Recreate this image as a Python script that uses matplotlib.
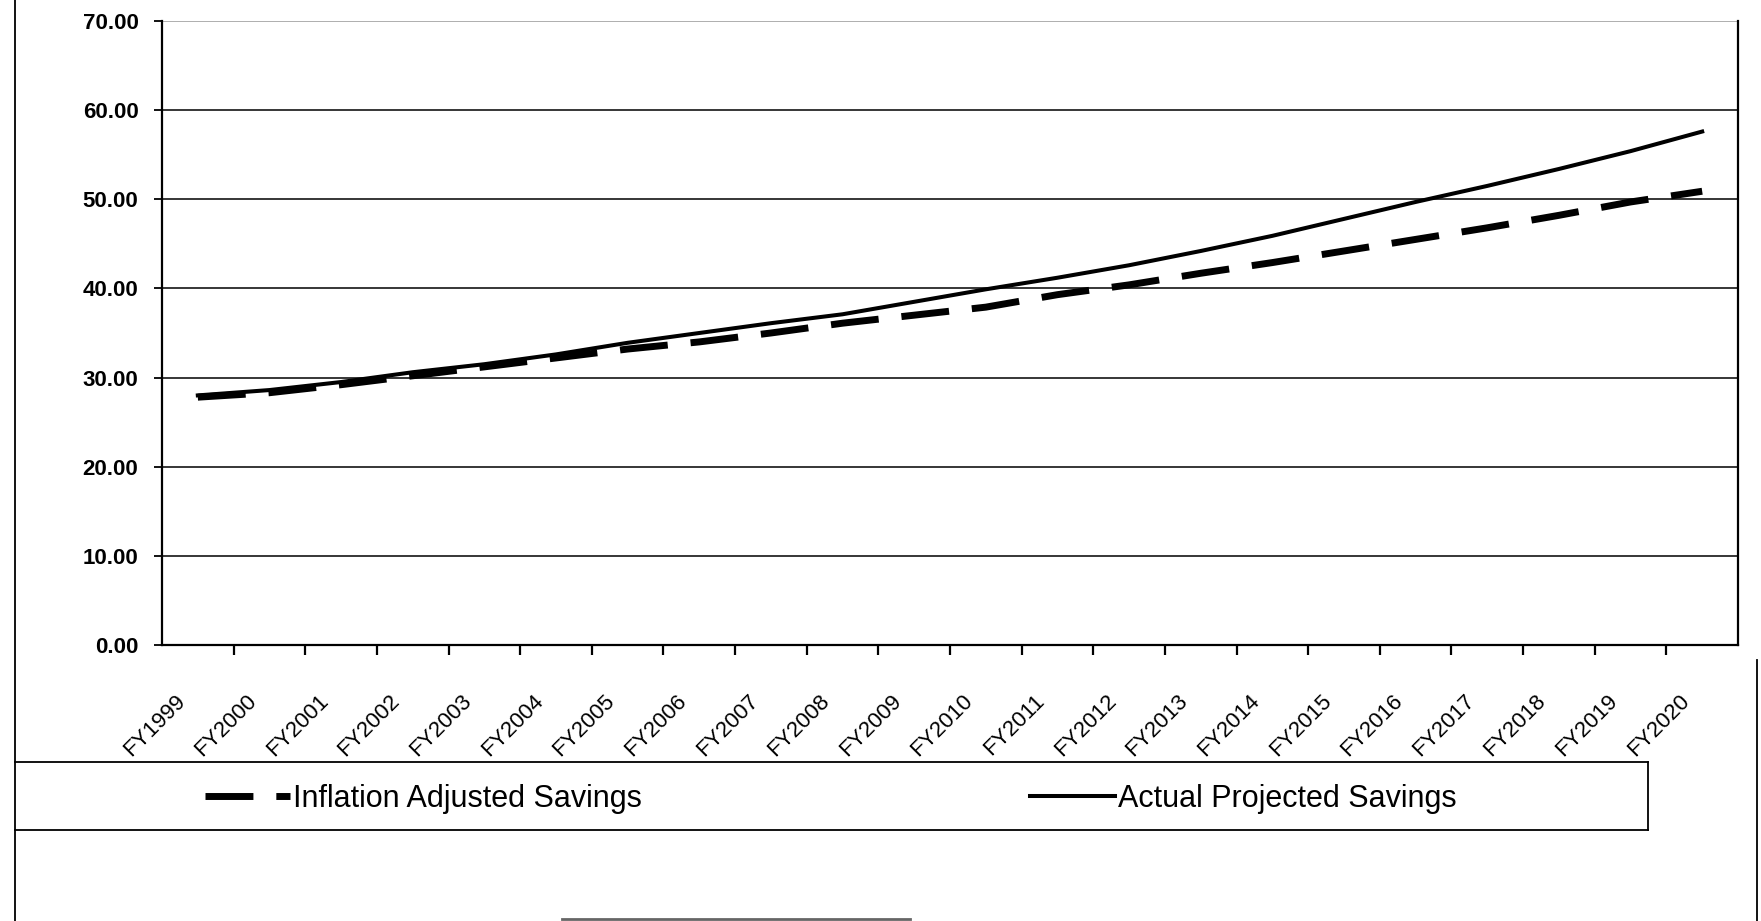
# savings projection chart, FY1999-FY2020
import matplotlib
matplotlib.use("Agg")
import matplotlib.pyplot as plt
import numpy as np
from matplotlib.lines import Line2D
from matplotlib.transforms import ScaledTranslation

years = ["FY%d" % y for y in range(1999, 2021)]
inflation_adjusted = [27.8, 28.3, 29.2, 30.2, 31.2, 32.2, 33.2, 34.0, 35.0, 36.1, 37.0,
                      37.9, 39.3, 40.4, 41.7, 42.9, 44.2, 45.5, 46.8, 48.2, 49.7, 50.9]
actual_projected = [28.0, 28.6, 29.5, 30.6, 31.5, 32.6, 33.9, 35.0, 36.1, 37.1, 38.5,
                    39.9, 41.2, 42.6, 44.2, 45.9, 47.8, 49.7, 51.5, 53.4, 55.4, 57.6]
series_names = ["Inflation Adjusted Savings", "Actual Projected Savings"]
yticks = np.arange(0, 71, 10)

font = "Liberation Sans"
legend_size = 22

W, H = 1761, 921
fig = plt.figure(figsize=(W / 100, H / 100), dpi=100)
fig.patch.set_facecolor("white")


def fx(px):
    return px / W


def fy(py):
    return 1 - py / H


ax = fig.add_axes([fx(162), fy(645), fx(1738 - 162), (645 - 21) / H])

x = np.arange(len(years))
l1, = ax.plot(x, inflation_adjusted, color="black", lw=5, dashes=(6.9, 3.3),
              label=series_names[0])
l2, = ax.plot(x, actual_projected, color="black", lw=2.9, label=series_names[1])

ax.set_xlim(-0.5, len(years) - 0.5)
ax.set_ylim(0, 70)
ax.set_yticks(yticks, labels=["%.2f" % v for v in yticks],
              fontsize=16, fontweight="bold", family=font)
ax.tick_params(axis="y", length=6, width=1.3, pad=11)
ax.yaxis.grid(True, color="black", lw=1.1)
ax.yaxis.get_gridlines()[-1].set_color("0.6")
ax.set_axisbelow(True)

# category labels centred, tick marks between categories
ax.set_xticks(x, labels=years, rotation=45, ha="right", va="center",
              rotation_mode="anchor", fontsize=16, family=font)
ax.set_xticks(np.arange(0.5, len(years) - 1, 1), minor=True)
ax.tick_params(axis="x", which="major", length=0, pad=38)
ax.tick_params(axis="x", which="minor", length=7, width=1.6, direction="out")
for lab in ax.get_xticklabels():
    lab.set_transform(lab.get_transform() + ScaledTranslation(-0.16, 0, fig.dpi_scale_trans))

for side in ("left", "bottom", "right"):
    ax.spines[side].set_linewidth(1.6)
ax.spines["top"].set_visible(False)

# legend entries laid out in the band under the plot
hl = 85 / (legend_size * 100 / 72)
prop = {"family": font, "size": legend_size}
leg1 = ax.legend(handles=[l1], loc="center left", bbox_to_anchor=(fx(205), fy(799)),
                 bbox_transform=fig.transFigure, frameon=False, borderpad=0,
                 borderaxespad=0, handlelength=hl, handletextpad=0.1, prop=prop)
ax.add_artist(leg1)
ax.legend(handles=[l2], loc="center left", bbox_to_anchor=(fx(1030), fy(799)),
          bbox_transform=fig.transFigure, frameon=False, borderpad=0,
          borderaxespad=0, handlelength=hl, handletextpad=0.1, prop=prop)

# page frame and legend box
frame = [
    ([15, 15], [0, 921]),
    ([15, 1648], [762, 762]),
    ([15, 1648], [830, 830]),
    ([1648, 1648], [762, 830]),
    ([1757, 1757], [660, 921]),
]
for xs, ys in frame:
    fig.add_artist(Line2D([fx(v) for v in xs], [fy(v) for v in ys],
                          color="black", lw=1.3, transform=fig.transFigure))
fig.add_artist(Line2D([fx(562), fx(910)], [fy(919), fy(919)], color="0.4", lw=2,
                      transform=fig.transFigure))

fig.savefig("out.png", dpi=100)
